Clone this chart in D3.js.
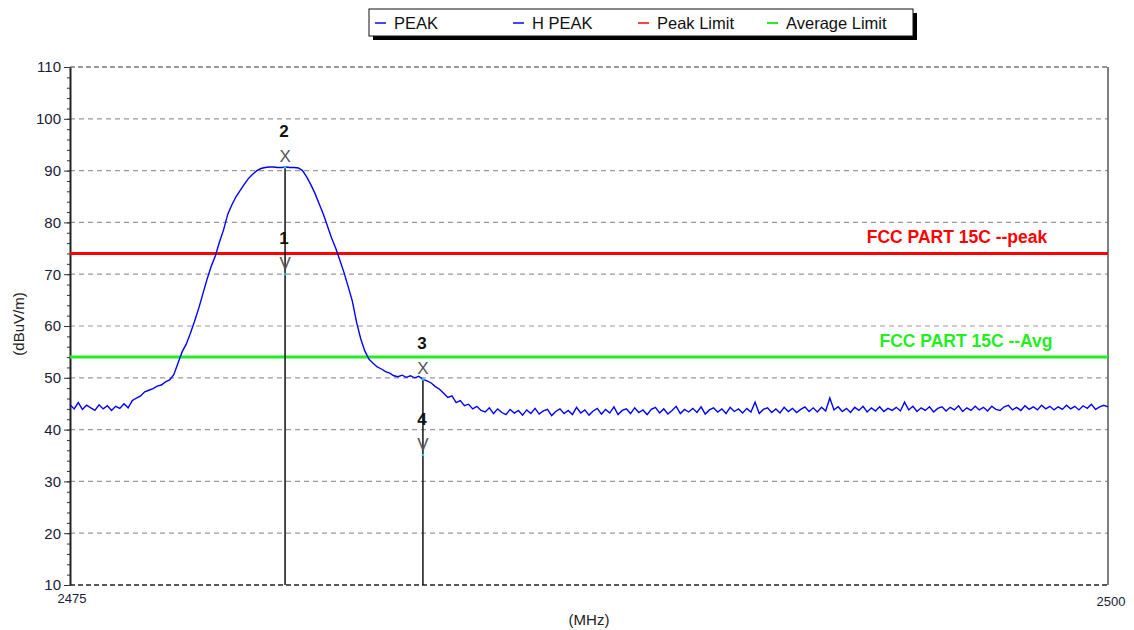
<!DOCTYPE html>
<html>
<head>
<meta charset="utf-8">
<script src="https://cdn.jsdelivr.net/npm/d3@7"></script>
<style>
  body { margin: 0; background: #fff; }
  text { font-family: "Liberation Sans", Arial, sans-serif; }
</style>
</head>
<body>
<div id="chart"></div>
<script>
// sweep settings
var fStart = 2475, fStop = 2500, fStep = 0.1;

// peak trace (dBuV/m) read every 0.1 MHz from 2475 to 2500
var peakTrace = [
  44.8, 44.0, 45.2, 43.9, 44.7, 44.2, 43.7, 44.8, 44.0, 44.6,
  43.7, 44.5, 44.1, 45.0, 44.2, 45.6, 46.1, 46.5, 47.3, 47.6,
  47.9, 48.4, 48.6, 49.2, 49.6, 50.6, 52.8, 55.0, 56.5, 58.6,
  60.9, 63.4, 66.2, 69.0, 71.5, 73.5, 76.2, 78.6, 81.6, 83.4,
  85.0, 86.2, 87.4, 88.5, 89.3, 90.0, 90.4, 90.6, 90.7, 90.7,
  90.6, 90.6, 90.7, 90.6, 90.6, 90.5, 90.0, 88.8, 87.3, 85.6,
  83.6, 81.6, 79.3, 77.0, 75.0, 72.7, 70.3, 67.6, 64.8, 60.8,
  57.6, 55.2, 53.6, 52.8, 52.1, 51.7, 51.2, 50.9, 50.4, 50.2,
  50.5, 50.1, 50.4, 50.0, 50.3, 49.7, 49.4, 49.0, 48.3, 47.8,
  47.0, 46.2, 46.5, 45.2, 45.6, 44.6, 44.9, 44.0, 44.5, 43.7,
  43.4, 44.2, 43.1, 44.0, 43.3, 42.9, 43.9, 43.2, 43.7, 42.8,
  43.8, 43.1, 44.1, 43.0, 43.6, 43.9, 42.7, 43.5, 44.0, 43.1,
  43.7, 42.9, 44.3, 43.2, 43.8, 42.8, 43.6, 44.1, 43.0, 43.9,
  43.2, 44.4, 42.9, 43.7, 44.0, 43.1, 44.2, 43.3, 43.8, 42.9,
  43.9, 44.3, 43.2, 44.0, 43.0, 43.7, 44.5, 43.1, 43.9, 43.4,
  44.1, 43.3, 44.4, 43.0, 43.8, 44.2, 43.4, 44.0, 43.1, 44.3,
  43.5, 44.0, 43.2, 44.1, 43.4, 45.3, 43.1, 43.9, 44.2, 43.3,
  44.0, 43.2, 44.3, 43.5, 44.1, 43.3, 43.9, 44.4, 43.5, 44.2,
  43.4, 44.3, 43.6, 46.1, 43.8, 44.4, 43.5, 44.1, 43.3, 44.3,
  43.7, 44.5, 43.4, 44.2, 43.6, 44.4, 43.5, 44.1, 43.7, 44.3,
  43.6, 45.3, 43.8, 44.5, 43.5, 44.2, 43.7, 44.4, 43.4, 44.1,
  44.4, 43.6, 44.3, 43.8, 44.6, 43.5, 44.2, 43.7, 44.5, 43.8,
  44.3, 43.6, 44.5, 43.9, 43.7, 44.4, 44.7, 43.8, 44.3, 43.7,
  44.6, 43.9, 44.4, 43.8, 44.7, 44.0, 44.5, 43.8, 44.4, 43.9,
  44.7, 44.0, 44.5, 43.8, 44.6, 44.1, 44.9, 43.9, 44.4, 44.7,
  44.4
];

// limit lines
var limitNames  = ["FCC PART 15C --peak", "FCC PART 15C --Avg"];
var limitValues = [74, 54];
var limitColors = ["#ff0000", "#22ee22"];

// markers: number, frequency (MHz), level (dBuV/m), symbol
var markerIds    = ["1", "2", "3", "4"];
var markerFreqs  = [2480.18, 2480.18, 2483.5, 2483.5];
var markerLevels = [70.0, 90.6, 49.7, 35.1];
var markerSyms   = ["V", "X", "X", "V"];

// legend entries
var legendNames  = ["PEAK", "H PEAK", "Peak Limit", "Average Limit"];
var legendColors = ["#4444ff", "#4444ff", "#ff4444", "#22ee22"];

var yTicks = [10, 20, 30, 40, 50, 60, 70, 80, 90, 100, 110];

// set the dimensions and margins of the graph
var margin = {top: 67, right: 26, bottom: 45, left: 70},
    width = 1134 - margin.left - margin.right,
    height = 630 - margin.top - margin.bottom;

var xScale = d3.scaleLinear().domain([fStart, fStop]).range([0, width]);
var yScale = d3.scaleLinear().domain([10, 110]).range([height, 0]);

var root = d3.select("#chart").append("svg")
    .attr("width", 1134)
    .attr("height", 630);

var svg = root.append("g")
    .attr("transform", "translate(" + margin.left + "," + margin.top + ")");

// grid lines
svg.append("g")
    .selectAll("line")
    .data(yTicks.slice(1, -1))
  .enter().append("line")
    .attr("x1", 0).attr("x2", width)
    .attr("y1", function(d) { return yScale(d); })
    .attr("y2", function(d) { return yScale(d); })
    .attr("stroke", "#999")
    .attr("stroke-width", 1.2)
    .attr("stroke-dasharray", "5,4");

// top and bottom dashed border, right solid border
svg.append("line")
    .attr("x1", 0).attr("x2", width).attr("y1", 0).attr("y2", 0)
    .attr("stroke", "#333").attr("stroke-width", 1.2).attr("stroke-dasharray", "5,3");
svg.append("line")
    .attr("x1", 0).attr("x2", width).attr("y1", height).attr("y2", height)
    .attr("stroke", "#222").attr("stroke-width", 1.5).attr("stroke-dasharray", "5,3");
svg.append("line")
    .attr("x1", width).attr("x2", width).attr("y1", 0).attr("y2", height)
    .attr("stroke", "#555").attr("stroke-width", 1.5);

// minor y ticks
svg.append("g")
    .call(d3.axisLeft(yScale).tickValues(d3.range(12, 110, 2)).tickSize(3).tickFormat(""))
    .call(function(g) { g.select(".domain").remove(); })
    .selectAll("line").attr("stroke", "#333");

// Add the Y Axis
var yAxis = svg.append("g")
    .call(d3.axisLeft(yScale).tickValues(yTicks).tickSize(6).tickSizeOuter(0).tickPadding(3));
yAxis.select(".domain").attr("stroke", "#222").attr("stroke-width", 2);
yAxis.selectAll(".tick line").attr("stroke", "#333");
yAxis.selectAll("text")
    .attr("fill", "#1a1a3a")
    .style("font-size", "15px")
    .style("font-family", "'Liberation Sans', Arial, sans-serif");

// x end labels
svg.append("text")
    .attr("x", 2).attr("y", height + 18)
    .attr("text-anchor", "middle")
    .attr("fill", "#1a1a3a")
    .style("font-size", "13px")
    .text(fStart);
svg.append("text")
    .attr("x", width + 3).attr("y", height + 21)
    .attr("text-anchor", "middle")
    .attr("fill", "#1a1a3a")
    .style("font-size", "13px")
    .text(fStop);

// axis titles
svg.append("text")
    .attr("x", width / 2).attr("y", height + 40)
    .attr("text-anchor", "middle")
    .attr("fill", "#222")
    .style("font-size", "15px")
    .text("(MHz)");
svg.append("text")
    .attr("transform", "translate(" + (-46) + "," + (height / 2 - 2) + ") rotate(-90)")
    .attr("text-anchor", "middle")
    .attr("fill", "#222")
    .style("font-size", "15px")
    .text("(dBuV/m)");

// limit lines
svg.append("g")
    .selectAll("line")
    .data(limitValues)
  .enter().append("line")
    .attr("x1", 0).attr("x2", width)
    .attr("y1", function(d) { return yScale(d); })
    .attr("y2", function(d) { return yScale(d); })
    .attr("stroke", function(d, i) { return limitColors[i]; })
    .attr("stroke-width", 3);

svg.append("g")
    .selectAll("text")
    .data(limitValues)
  .enter().append("text")
    .attr("x", function(d, i) { return i == 0 ? 887 : 896; })
    .attr("y", function(d) { return yScale(d) - 10; })
    .attr("text-anchor", "middle")
    .attr("fill", function(d, i) { return limitColors[i]; })
    .style("font-size", "17.5px")
    .style("font-weight", "bold")
    .text(function(d, i) { return limitNames[i]; });

// define the line
var line = d3.line()
    .x(function(d, i) { return xScale(fStart + i * fStep); })
    .y(function(d) { return yScale(d); });

svg.append("path")
    .datum(peakTrace)
    .attr("fill", "none")
    .attr("stroke", "#0000ff")
    .attr("stroke-width", 1.4)
    .attr("d", line);

// marker vertical lines (from the X marker down to the bottom)
var markers = markerIds.map(function(id, i) {
  return {id: id, f: markerFreqs[i], v: markerLevels[i], sym: markerSyms[i]};
});

svg.append("g")
    .selectAll("line")
    .data(markers.filter(function(d) { return d.sym == "X"; }))
  .enter().append("line")
    .attr("x1", function(d) { return xScale(d.f); })
    .attr("x2", function(d) { return xScale(d.f); })
    .attr("y1", function(d) { return yScale(d.v); })
    .attr("y2", height)
    .attr("stroke", "#111")
    .attr("stroke-width", 1.5);

var mk = svg.append("g")
    .selectAll("g")
    .data(markers)
  .enter().append("g")
    .attr("transform", function(d) { return "translate(" + xScale(d.f) + "," + yScale(d.v) + ")"; });

mk.append("circle")
    .attr("r", 1.3)
    .attr("fill", "#22ccdd");

mk.append("text")
    .attr("y", -5)
    .attr("text-anchor", "middle")
    .attr("fill", "#555")
    .style("font-size", "17px")
    .text(function(d) { return d.sym; });

mk.append("text")
    .attr("x", -1)
    .attr("y", -30)
    .attr("text-anchor", "middle")
    .attr("fill", "#111")
    .style("font-size", "17px")
    .style("font-weight", "bold")
    .text(function(d) { return d.id; });

// legend
var legend = root.append("g")
    .attr("transform", "translate(369,9)");

legend.append("rect")
    .attr("x", 4).attr("y", 4)
    .attr("width", 544).attr("height", 27)
    .attr("fill", "#000");
legend.append("rect")
    .attr("x", 0).attr("y", 0)
    .attr("width", 544).attr("height", 27)
    .attr("fill", "#fff")
    .attr("stroke", "#111")
    .attr("stroke-width", 1);

var legendX = [6, 144, 269, 398];
var le = legend.selectAll(".entry")
    .data(legendNames)
  .enter().append("g")
    .attr("class", "entry")
    .attr("transform", function(d, i) { return "translate(" + legendX[i] + ",0)"; });

le.append("line")
    .attr("x1", 0).attr("x2", 11)
    .attr("y1", 14).attr("y2", 14)
    .attr("stroke", function(d, i) { return legendColors[i]; })
    .attr("stroke-width", 2);

le.append("text")
    .attr("x", 19).attr("y", 20)
    .attr("fill", "#111")
    .style("font-size", "16.5px")
    .text(function(d) { return d; });
</script>
</body>
</html>
